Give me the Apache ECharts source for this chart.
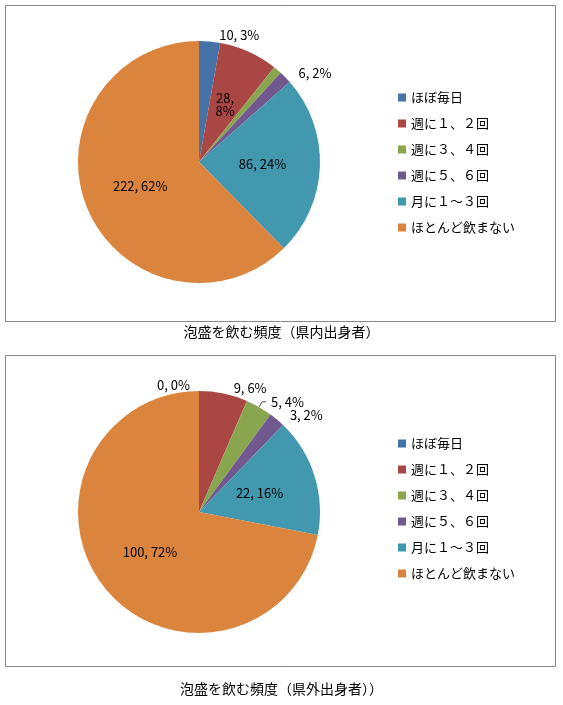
<!DOCTYPE html><html><head><meta charset="utf-8">
<script src="https://cdn.jsdelivr.net/npm/echarts@6/dist/echarts.min.js"></script>
<style>html,body{margin:0;background:#fff}#c{width:563px;height:705px}</style></head><body><div id="c"></div>
<script>
const categories=['ほぼ毎日','週に１、２回','週に３、４回','週に５、６回','月に１～３回','ほとんど飲まない'];
const insideValues=[10,28,4,6,86,222];
const outsideValues=[0,9,5,3,22,100];
const insideLabelPos=['outside','inside','outside','outside','inside','inside'];
const outsideLabelPos=['outside','outside','outside','outside','inside','inside'];
const titles=['泡盛を飲む頻度（県内出身者）','泡盛を飲む頻度（県外出身者））'];
const colors=['#4572A7','#AA4643','#89A54E','#71588F','#4198AF','#DB843D'];
const font='"Noto Sans CJK JP"';
function mk(vals,pos,cy){
  const tot=vals.reduce((a,b)=>a+b,0);
  return {type:'pie',center:[199,cy],radius:121,startAngle:90,clockwise:true,minAngle:0,
    avoidLabelOverlap:false,legendHoverLink:false,
    labelLine:{show:true,length:6,length2:4,lineStyle:{color:'#555'}},
    itemStyle:{borderColor:'#fff',borderWidth:0},
    data:vals.map((v,i)=>({name:categories[i],value:v,
      label:{position:pos[i],color:'#000',fontSize:13,fontFamily:font,
        formatter:(p)=>{const pc=Math.round(v/tot*100);return (i===1&&pos===insideLabelPos)?v+',\n'+pc+'%':v+', '+pc+'%';}},
      labelLine:{show:pos[i]==='outside'&&v>0&&(i===2)}}))};
}
const ch=echarts.init(document.getElementById('c'));
ch.setOption({color:colors,animation:false,
 graphic:[
  {type:'rect',shape:{x:5.5,y:5.5,width:550,height:316},style:{fill:'none',stroke:'#888',lineWidth:1}},
  {type:'rect',shape:{x:5.5,y:355.5,width:550,height:311},style:{fill:'none',stroke:'#888',lineWidth:1}},
  {type:'text',left:'center',top:325,style:{text:titles[0],font:'14px '+font,fill:'#000'}},
  {type:'text',left:'center',top:682,style:{text:titles[1],font:'14px '+font,fill:'#000'}}
 ],
 legend:[
  {orient:'vertical',left:393,top:86,itemGap:13,itemWidth:8,itemHeight:8,icon:'rect',data:categories,textStyle:{fontSize:13,fontFamily:font,color:'#000'}},
  {orient:'vertical',left:393,top:432,itemGap:13,itemWidth:8,itemHeight:8,icon:'rect',data:categories,textStyle:{fontSize:13,fontFamily:font,color:'#000'}}
 ],
 series:[mk(insideValues,insideLabelPos,162),mk(outsideValues,outsideLabelPos,512)]
});
</script></body></html>
